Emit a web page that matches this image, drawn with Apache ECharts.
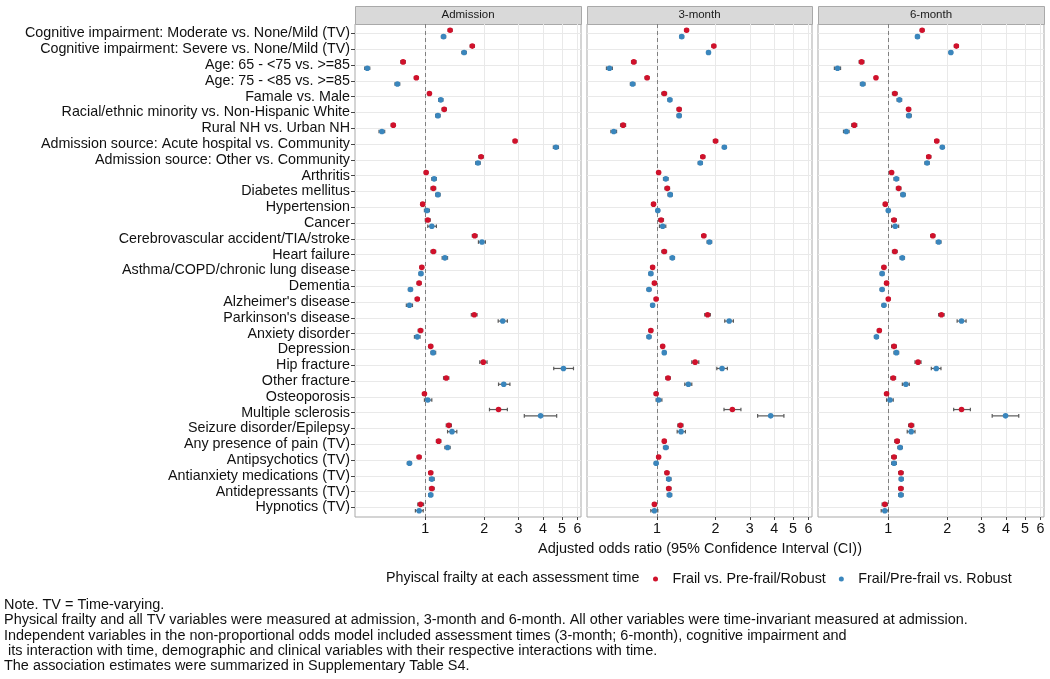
<!DOCTYPE html>
<html><head><meta charset="utf-8">
<script src="https://cdn.jsdelivr.net/npm/echarts@6/dist/echarts.min.js"></script>
<style>html,body{margin:0;padding:0;background:#fff}#c{width:1050px;height:679px}</style>
</head><body><div id="c"></div>
<script>
const categories = [
  "Cognitive impairment: Moderate vs. None/Mild (TV)",
  "Cognitive impairment: Severe vs. None/Mild (TV)",
  "Age: 65 - <75 vs. >=85",
  "Age: 75 - <85 vs. >=85",
  "Famale vs. Male",
  "Racial/ethnic minority vs. Non-Hispanic White",
  "Rural NH vs. Urban NH",
  "Admission source: Acute hospital vs. Community",
  "Admission source: Other vs. Community",
  "Arthritis",
  "Diabetes mellitus",
  "Hypertension",
  "Cancer",
  "Cerebrovascular accident/TIA/stroke",
  "Heart failure",
  "Asthma/COPD/chronic lung disease",
  "Dementia",
  "Alzheimer's disease",
  "Parkinson's disease",
  "Anxiety disorder",
  "Depression",
  "Hip fracture",
  "Other fracture",
  "Osteoporosis",
  "Multiple sclerosis",
  "Seizure disorder/Epilepsy",
  "Any presence of pain (TV)",
  "Antipsychotics (TV)",
  "Antianxiety medications (TV)",
  "Antidepressants (TV)",
  "Hypnotics (TV)"
];
const panels = ["Admission", "3-month", "6-month"];
const tickValues = [1, 2, 3, 4, 5, 6];
const groupNames = ["Frail vs. Pre-frail/Robust", "Frail/Pre-frail vs. Robust"];

// Admission
const admFrailOR = [1.34,1.74,0.77,0.90,1.05,1.25,0.686,2.88,1.93,1.01,1.10,0.97,1.03,1.79,1.10,0.96,0.93,0.91,1.78,0.946,1.066,1.98,1.28,0.99,2.37,1.32,1.17,0.93,1.066,1.08,0.946];
const admFrailLo = [1.31,1.70,0.75,0.88,1.03,1.22,0.67,2.82,1.88,0.99,1.07,0.95,1.00,1.74,1.07,0.94,0.91,0.89,1.72,0.92,1.04,1.90,1.24,0.97,2.13,1.28,1.14,0.91,1.04,1.05,0.916];
const admFrailHi = [1.37,1.78,0.79,0.92,1.07,1.28,0.70,2.94,1.98,1.03,1.13,0.99,1.06,1.84,1.13,0.98,0.95,0.93,1.84,0.97,1.09,2.07,1.32,1.01,2.63,1.36,1.20,0.95,1.09,1.11,0.98];
const admPreOR = [1.24,1.58,0.505,0.72,1.20,1.16,0.60,4.66,1.86,1.11,1.16,1.02,1.08,1.95,1.26,0.95,0.84,0.83,2.49,0.91,1.096,5.09,2.52,1.03,3.89,1.37,1.30,0.83,1.08,1.066,0.93];
const admPreLo = [1.21,1.54,0.49,0.70,1.17,1.13,0.58,4.52,1.81,1.08,1.13,0.99,1.03,1.87,1.22,0.93,0.82,0.80,2.36,0.88,1.07,4.54,2.37,0.99,3.21,1.30,1.26,0.81,1.05,1.04,0.89];
const admPreHi = [1.27,1.62,0.52,0.74,1.23,1.19,0.62,4.80,1.91,1.14,1.19,1.05,1.14,2.03,1.30,0.97,0.86,0.86,2.63,0.94,1.13,5.73,2.71,1.08,4.70,1.45,1.34,0.85,1.11,1.09,0.976];

// 3-month
const m3FrailOR = [1.42,1.96,0.76,0.89,1.09,1.30,0.67,2.00,1.72,1.02,1.13,0.96,1.05,1.74,1.09,0.95,0.97,0.99,1.82,0.93,1.07,1.57,1.14,0.99,2.44,1.32,1.09,1.02,1.125,1.15,0.97];
const m3FrailLo = [1.39,1.92,0.74,0.87,1.06,1.27,0.65,1.95,1.68,1.00,1.10,0.94,1.02,1.70,1.06,0.93,0.95,0.97,1.76,0.91,1.05,1.51,1.11,0.97,2.21,1.28,1.07,1.00,1.10,1.12,0.95];
const m3FrailHi = [1.45,2.00,0.78,0.91,1.12,1.33,0.69,2.05,1.76,1.04,1.16,0.98,1.08,1.78,1.12,0.97,0.99,1.01,1.88,0.95,1.09,1.64,1.17,1.01,2.70,1.36,1.11,1.04,1.15,1.18,0.99];
const m3PreOR = [1.34,1.84,0.57,0.75,1.165,1.30,0.60,2.22,1.67,1.11,1.17,1.01,1.07,1.86,1.20,0.93,0.91,0.95,2.35,0.91,1.09,2.16,1.45,1.02,3.84,1.33,1.11,0.99,1.15,1.16,0.97];
const m3PreLo = [1.31,1.80,0.55,0.73,1.14,1.27,0.58,2.17,1.63,1.08,1.14,0.99,1.03,1.81,1.17,0.91,0.89,0.93,2.23,0.89,1.07,2.03,1.39,0.99,3.29,1.27,1.08,0.97,1.12,1.13,0.93];
const m3PreHi = [1.37,1.88,0.59,0.77,1.19,1.33,0.62,2.27,1.71,1.14,1.20,1.03,1.11,1.91,1.23,0.95,0.93,0.97,2.47,0.93,1.11,2.30,1.51,1.06,4.49,1.40,1.14,1.01,1.18,1.19,1.01];

// 6-month
const m6FrailOR = [1.49,2.23,0.73,0.865,1.08,1.27,0.67,1.77,1.61,1.04,1.13,0.965,1.07,1.69,1.08,0.95,0.98,1.00,1.87,0.90,1.07,1.42,1.06,0.98,2.37,1.31,1.11,1.07,1.16,1.16,0.96];
const m6FrailLo = [1.46,2.18,0.71,0.85,1.05,1.24,0.65,1.73,1.57,1.02,1.10,0.945,1.04,1.65,1.05,0.93,0.96,0.98,1.81,0.88,1.04,1.37,1.03,0.96,2.16,1.27,1.08,1.04,1.13,1.13,0.93];
const m6FrailHi = [1.52,2.28,0.75,0.88,1.11,1.30,0.69,1.81,1.65,1.06,1.16,0.985,1.10,1.73,1.11,0.97,1.00,1.02,1.93,0.92,1.10,1.47,1.09,1.00,2.63,1.35,1.14,1.10,1.19,1.19,0.99];
const m6PreOR = [1.41,2.09,0.55,0.74,1.14,1.275,0.61,1.89,1.58,1.10,1.19,1.00,1.085,1.81,1.18,0.93,0.93,0.95,2.37,0.87,1.10,1.76,1.23,1.02,3.98,1.31,1.15,1.07,1.165,1.16,0.96];
const m6PreLo = [1.38,2.05,0.53,0.72,1.11,1.24,0.59,1.85,1.54,1.07,1.16,0.98,1.04,1.76,1.15,0.91,0.91,0.93,2.25,0.85,1.07,1.66,1.18,0.98,3.40,1.25,1.12,1.04,1.14,1.13,0.92];
const m6PreHi = [1.44,2.13,0.57,0.76,1.17,1.31,0.63,1.93,1.62,1.13,1.22,1.02,1.13,1.86,1.21,0.95,0.95,0.97,2.50,0.89,1.13,1.86,1.28,1.06,4.65,1.37,1.18,1.10,1.19,1.19,1.00];

const noteLines = [
  "Note. TV = Time-varying.",
  "Physical frailty and all TV variables were measured at admission, 3-month and 6-month. All other variables were time-invariant measured at admission.",
  "Independent variables in the non-proportional odds model included assessment times (3-month; 6-month), cognitive impairment and",
  " its interaction with time, demographic and clinical variables with their respective interactions with time.",
  "The association estimates were summarized in Supplementary Table S4."
];

const panelData = [
  [[admFrailOR, admFrailLo, admFrailHi], [admPreOR, admPreLo, admPreHi]],
  [[m3FrailOR, m3FrailLo, m3FrailHi], [m3PreOR, m3PreLo, m3PreHi]],
  [[m6FrailOR, m6FrailLo, m6FrailHi], [m6PreOR, m6PreLo, m6PreHi]]
];

const colors = ["#d0112b", "#3a86bd"];
const dodges = [-0.2, 0.2];
const FONT = "Liberation Sans, Arial, sans-serif";
const FS = 14.3;

const gridLefts = [355, 587, 818];
const gridWidths = [226, 225, 226];
const gridTop = 24, gridHeight = 493;

function makeRender(color, dodge) {
  return function (params, api) {
    const i = api.value(0);
    const y = i + dodge;
    const p = api.coord([api.value(1), y]);
    const pl = api.coord([api.value(2), y]);
    const ph = api.coord([api.value(3), y]);
    const ec = "#5a5a5a";
    return {
      type: "group",
      children: [
        { type: "line", shape: { x1: pl[0], y1: p[1], x2: ph[0], y2: p[1] }, style: { stroke: ec, lineWidth: 1.2 } },
        { type: "line", shape: { x1: pl[0], y1: p[1] - 1.8, x2: pl[0], y2: p[1] + 1.8 }, style: { stroke: ec, lineWidth: 1.2 } },
        { type: "line", shape: { x1: ph[0], y1: p[1] - 1.8, x2: ph[0], y2: p[1] + 1.8 }, style: { stroke: ec, lineWidth: 1.2 } },
        { type: "circle", shape: { cx: p[0], cy: p[1], r: 2.8 }, style: { fill: color } }
      ]
    };
  };
}

const grids = [], xAxes = [], yAxes = [], series = [], graphics = [];
const catIdx = categories.map((c, i) => i);

panels.forEach((name, k) => {
  grids.push({ left: gridLefts[k], top: gridTop, width: gridWidths[k], height: gridHeight,
    show: true, borderColor: "#a9a9a9", borderWidth: 1, backgroundColor: "#fff" });
  xAxes.push({
    type: "log", gridIndex: k, min: 0.437, max: 6.26, position: "bottom",
    axisLine: { show: false, onZero: false },
    axisTick: { show: true, length: 3, lineStyle: { color: "#444" }, customValues: tickValues },
    axisLabel: { customValues: tickValues, color: "#111", fontSize: FS, fontFamily: FONT, margin: 5,
      formatter: v => String(Math.round(v)) },
    splitLine: { show: true, lineStyle: { color: "#e9e9e9", width: 1 } },
    minorSplitLine: { show: false }
  });
  yAxes.push({
    type: "value", gridIndex: k, min: -0.6, max: 30.6, inverse: true, position: "left",
    axisLine: { show: false, onZero: false },
    axisTick: { show: k === 0, length: 4, lineStyle: { color: "#444" }, customValues: catIdx },
    axisLabel: { show: k === 0, customValues: catIdx, color: "#111", fontSize: FS, fontFamily: FONT, margin: 5,
      formatter: v => categories[Math.round(v)] },
    splitLine: { show: true, lineStyle: { color: "#e9e9e9", width: 1 } }
  });
  panelData[k].forEach((arr, g) => {
    const s = {
      type: "custom", name: groupNames[g], xAxisIndex: k, yAxisIndex: k,
      renderItem: makeRender(colors[g], dodges[g]),
      encode: { x: [1, 2, 3], y: 0 },
      data: categories.map((c, i) => [i, arr[0][i], arr[1][i], arr[2][i]]),
      itemStyle: { color: colors[g] },
      z: 3
    };
    if (g === 0) {
      s.markLine = { silent: true, symbol: "none", label: { show: false }, z: 2,
        lineStyle: { color: "#808080", type: [4, 3], width: 1 },
        data: [{ xAxis: 1 }] };
    }
    series.push(s);
  });
  graphics.push({ type: "rect", left: gridLefts[k], top: 6,
    shape: { width: gridWidths[k], height: 18 },
    style: { fill: "#d9d9d9", stroke: "#a9a9a9", lineWidth: 1 } });
  graphics.push({ type: "text", x: gridLefts[k] + gridWidths[k] / 2, y: 15,
    style: { text: name, fill: "#1a1a1a", font: "11.5px " + FONT, align: "center", verticalAlign: "middle" } });
});

graphics.push({ type: "text", x: 700, y: 549,
  style: { text: "Adjusted odds ratio (95% Confidence Interval (CI))", fill: "#111", font: "14.5px " + FONT,
    align: "center", verticalAlign: "middle" } });
graphics.push({ type: "text", x: 386, y: 578,
  style: { text: "Phyiscal frailty at each assessment time", fill: "#111", font: FS + "px " + FONT,
    align: "left", verticalAlign: "middle" } });
graphics.push({ type: "text", x: 4, y: 597.5,
  style: { text: noteLines.join("\n"), fill: "#111", font: "14.45px " + FONT, lineHeight: 15.25,
    align: "left", verticalAlign: "top" } });

const chart = echarts.init(document.getElementById("c"));
chart.setOption({
  animation: false,
  backgroundColor: "#fff",
  grid: grids, xAxis: xAxes, yAxis: yAxes, series: series,
  legend: {
    left: 648, top: 567, itemWidth: 24, itemHeight: 5, itemGap: 13,
    data: groupNames.map(n => ({ name: n, icon: "circle" })),
    textStyle: { color: "#111", fontSize: FS, fontFamily: FONT },
    selectedMode: false
  },
  graphic: graphics
});
</script>
</body></html>
